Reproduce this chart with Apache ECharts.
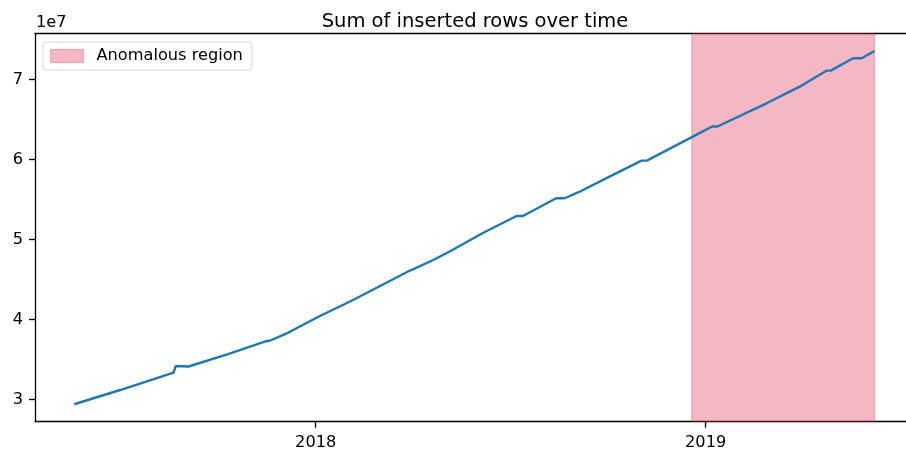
<!DOCTYPE html>
<html>
<head>
<meta charset="utf-8">
<script src="https://cdn.jsdelivr.net/npm/echarts@6/dist/echarts.min.js"></script>
<style>
  html, body { margin: 0; padding: 0; background: #fff; overflow: hidden; }
  #chart { width: 906px; height: 457px; }
</style>
</head>
<body>
<div id="chart"></div>
<script>
// Cumulative inserted rows, sampled at the corners of the running total
const dates = [
  '2017-05-20', '2017-07-02', '2017-08-21', '2017-08-23', '2017-09-04',
  '2017-10-11', '2017-11-15', '2017-11-19', '2017-12-06', '2017-12-10',
  '2018-01-05', '2018-02-05', '2018-03-28', '2018-04-02', '2018-04-21',
  '2018-05-06', '2018-06-06', '2018-07-08', '2018-07-14', '2018-08-14',
  '2018-08-22', '2018-09-05', '2018-10-03', '2018-11-02', '2018-11-07',
  '2018-12-20', '2019-01-07', '2019-01-12', '2019-02-27', '2019-03-30',
  '2019-04-24', '2019-04-28', '2019-05-19', '2019-05-27', '2019-06-08'
];
const insertedRows = [
  29380000, 31160000, 33330000, 34160000, 34100000,
  35660000, 37250000, 37320000, 38300000, 38600000,
  40410000, 42410000, 45950000, 46250000, 47410000,
  48450000, 50750000, 52910000, 52910000, 55130000,
  55130000, 55950000, 57830000, 59830000, 59830000,
  62830000, 64100000, 64100000, 67000000, 69080000,
  71080000, 71080000, 72630000, 72630000, 73540000
];

// Flagged period
const anomalyStart = '2018-12-19';
const anomalyEnd = '2019-06-08';

// Tick positions
const yTicks = [30000000, 40000000, 50000000, 60000000, 70000000];
const xTickDates = ['2018-01-01', '2019-01-01'];

const DAY = 86400000;
function utc(s) {
  const p = s.split('-').map(Number);
  return Date.UTC(p[0], p[1] - 1, p[2]);
}

// Dates are plotted as UTC timestamps on a numeric axis
const lineData = dates.map((d, i) => [utc(d), insertedRows[i]]);
const xMin = utc('2018-01-01') - 262.7 * DAY;
const xMax = utc('2018-01-01') + 552.5 * DAY;

const FONT = 'DejaVu Sans';
const TICK_FONT = 16.2;
const shade = 'rgba(220,20,60,0.3)';
const spine = { show: true, lineStyle: { color: '#000', width: 1.3 } };

const chart = echarts.init(document.getElementById('chart'), null, { renderer: 'canvas' });
chart.setOption({
  animation: false,
  backgroundColor: '#ffffff',
  title: {
    text: 'Sum of inserted rows over time',
    left: 470,
    textAlign: 'center',
    top: 7,
    textStyle: { fontFamily: FONT, fontSize: 19.5, fontWeight: 'normal', color: '#000' }
  },
  graphic: [{
    type: 'text',
    left: 36,
    top: 14.5,
    style: { text: '1e7', font: TICK_FONT + 'px "DejaVu Sans"', fill: '#000' }
  }],
  legend: {
    left: 43,
    top: 42,
    orient: 'vertical',
    padding: [6, 9, 6, 7],
    borderColor: '#d6d6d6',
    borderWidth: 1,
    borderRadius: 3,
    backgroundColor: '#ffffff',
    itemWidth: 33,
    itemHeight: 13,
    itemGap: 6,
    textStyle: { fontFamily: FONT, fontSize: TICK_FONT, color: '#000', padding: [0, 0, 0, 8] },
    data: [{
      name: 'Anomalous region',
      icon: 'rect',
      itemStyle: { color: shade, borderColor: shade, borderWidth: 1 }
    }]
  },
  grid: { left: 35, right: 0, top: 33.5, bottom: 35.3, show: false },
  xAxis: [
    {
      type: 'value',
      position: 'bottom',
      min: xMin,
      max: xMax,
      splitLine: { show: false },
      axisLine: spine,
      axisTick: {
        show: true, length: 6, lineStyle: { color: '#000', width: 1.3 },
        customValues: xTickDates.map(utc)
      },
      axisLabel: {
        fontFamily: FONT, fontSize: TICK_FONT, color: '#000', margin: 13,
        customValues: xTickDates.map(utc),
        formatter: v => String(new Date(v).getUTCFullYear())
      }
    },
    {
      // top spine only
      type: 'value',
      position: 'top',
      min: xMin,
      max: xMax,
      splitLine: { show: false },
      axisLine: spine,
      axisTick: { show: false },
      axisLabel: { show: false }
    }
  ],
  yAxis: {
    type: 'value',
    min: 27200000,
    max: 75725000,
    splitLine: { show: false },
    axisLine: spine,
    axisTick: {
      show: true, length: 6, lineStyle: { color: '#000', width: 1.3 },
      customValues: yTicks
    },
    axisLabel: {
      fontFamily: FONT, fontSize: TICK_FONT, color: '#000', margin: 12,
      customValues: yTicks,
      formatter: v => String(Math.round(v / 1e7))
    }
  },
  series: [
    {
      name: 'Anomalous region',
      type: 'line',
      data: [],
      itemStyle: { color: shade },
      markArea: {
        silent: true,
        itemStyle: { color: shade, borderColor: shade, borderWidth: 1 },
        data: [[{ xAxis: utc(anomalyStart) }, { xAxis: utc(anomalyEnd) }]]
      }
    },
    {
      name: 'Inserted rows',
      type: 'line',
      data: lineData,
      showSymbol: false,
      symbol: 'none',
      lineStyle: { color: '#1f77b4', width: 2.4 },
      itemStyle: { color: '#1f77b4' },
      z: 3
    }
  ]
});
</script>
</body>
</html>
